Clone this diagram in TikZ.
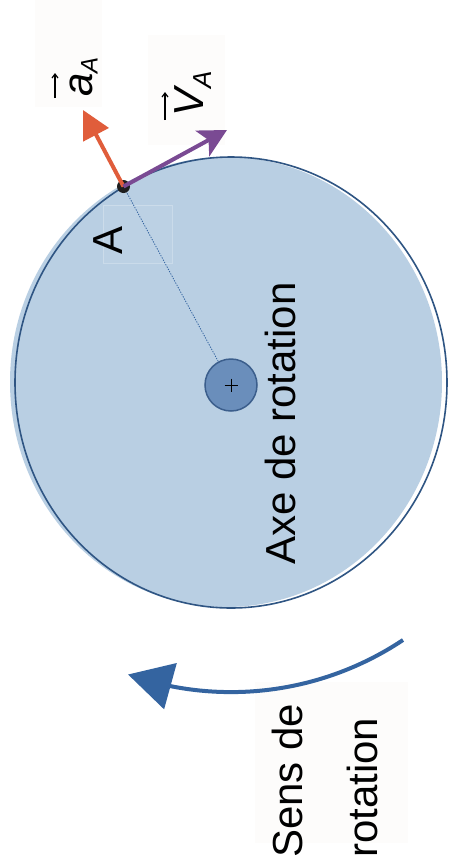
\documentclass[tikz,border=0pt]{standalone}
\usepackage{fontspec}
\setmainfont{Liberation Sans}
\usetikzlibrary{arrows.meta,bending}
\definecolor{diskfill}{HTML}{B9CFE3}
\definecolor{diskline}{HTML}{2F5583}
\definecolor{hubfill}{HTML}{6A8EBB}
\definecolor{hubline}{HTML}{3B5E8C}
\definecolor{accred}{HTML}{E05D3B}
\definecolor{velpurple}{HTML}{7A4A93}
\definecolor{rotblue}{HTML}{3464A0}
\definecolor{boxgray}{HTML}{FDFCFB}
\begin{document}
\begin{tikzpicture}[x=1pt,y=-1pt,
  lbl/.style={rotate=90, inner sep=0pt, font=\fontsize{42}{42}\selectfont},
  bgbox/.style={fill=boxgray},
  vecarrow/.style={line width=1.2pt, -{Straight Barb[length=4pt,width=6pt]}},
  vector/.style={line width=4pt}]
\useasboundingbox (0,0) rectangle (449,868);
\fill[white] (0,0) rectangle (449,868);
% faint text boxes
\fill[bgbox] (35,0) rectangle (102,107);
\fill[bgbox] (148,35) rectangle (225,145);
\fill[bgbox] (255,682) rectangle (408,843);
% coordinates
\coordinate (O) at (231,382.5);
\coordinate (H) at (231,385);
\coordinate (A) at (123.5,186.5);
\coordinate (atip) at (83,110);
\coordinate (vtip) at (227,130);
\coordinate (rs) at (403,640);
% disk
\fill[diskfill] (226,382) ellipse [x radius=216pt, y radius=225pt];
\draw[diskline, line width=1.6pt] (O) ellipse [x radius=216pt, y radius=225.5pt];
% A label box
\draw[white, draw opacity=0.25, fill=white, fill opacity=0.05] (103,205) rectangle (172,263);
% radius line
\draw[rotblue, line width=0.8pt, dash pattern=on 1.3pt off 1.3pt] (A) -- (H);
% hub
\filldraw[fill=hubfill, draw=hubline, line width=1.5pt] (H) circle[radius=26pt];
\draw[line width=0.6pt] (224.5,385) -- (237.5,385) (231,378.5) -- (231,391.5);
% point A and vectors
\fill[black!88] (A) circle[radius=6.5pt];
\draw[vector, accred, -{Triangle[length=28pt,width=28pt]}] (A) -- (atip);
\draw[vector, velpurple, -{Stealth[length=28pt,width=29pt,inset=7pt]}] (A) -- (vtip);
% rotation arrow
\draw[rotblue, line width=4pt, -{Triangle[length=44pt,width=47pt,flex]}] (rs) arc[start angle=56.3, end angle=109.4, radius=310];
% texts
\node[lbl, anchor=base west] (axe) at (295,565) {Axe de rotation};
\node[lbl, anchor=base] (Alab) at (122,240) {A};
\node[lbl, anchor=base west] (sens1) at (302,858) {Sens de};
\node[lbl, anchor=base west] (sens2) at (377,858) {rotation};
\node[lbl, anchor=base west] (aA) at (92.5,97) {\itshape a\raisebox{-5pt}{\fontsize{24}{24}\selectfont A}};
\node[lbl, anchor=base west] (vA) at (203,117) {\itshape V\raisebox{-8pt}{\fontsize{26}{26}\selectfont A}};
% vector arrows over letters
\coordinate (aa1) at (55,98);
\coordinate (aa2) at (55,73);
\coordinate (va1) at (165,120);
\coordinate (va2) at (165,92);
\draw[vecarrow] (aa1) -- (aa2);
\draw[vecarrow] (va1) -- (va2);
\end{tikzpicture}
\end{document}
